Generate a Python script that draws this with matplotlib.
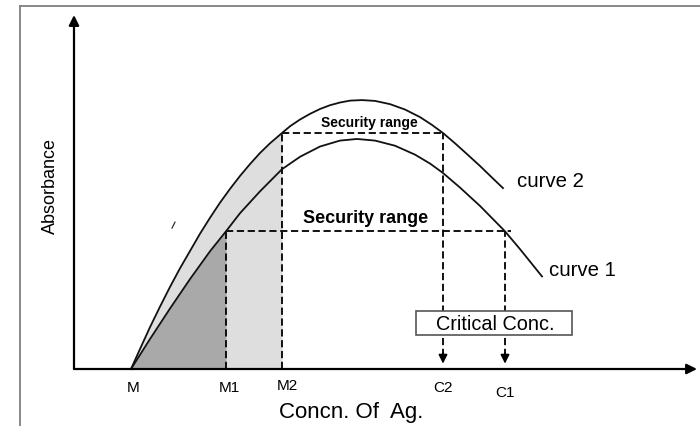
import numpy as np
import matplotlib
matplotlib.use("Agg")
import matplotlib.pyplot as plt
from matplotlib.lines import Line2D
from matplotlib.patches import Rectangle
from matplotlib import font_manager

# Fuente estrecha si existe (el original usa una letra condensada)
nombres = {f.name for f in font_manager.fontManager.ttflist}
if "Liberation Sans Narrow" in nombres:
    fuente, escala = "Liberation Sans Narrow", 1 / 0.82
else:
    fuente, escala = "Liberation Sans", 1.0
plt.rcParams["font.family"] = [fuente, "DejaVu Sans"]

conc_curve2 = [5.7, 6.6, 7.6, 8.6, 9.6, 10.6, 11.6, 12.6, 13.6, 14.6, 15.6, 16.6, 17.6,
               18.6, 19.6, 20.8, 21.6, 22.6, 23.6, 24.6, 25.6, 26.6, 27.6, 28.8, 30.1,
               31.6, 33.1, 34.6, 35.8, 36.9, 38.1, 39.3, 40.6, 41.8, 42.9]
abs_curve2 = [0.0, 7.4, 15.5, 23.1, 30.4, 37.3, 43.7, 50.1, 56.0, 61.6, 66.7, 71.5, 75.9,
              80.0, 83.6, 87.4, 89.9, 92.4, 94.5, 96.3, 97.7, 98.7, 99.4, 99.6, 99.3,
              98.1, 96.1, 93.3, 90.4, 87.4, 83.6, 79.6, 75.2, 70.9, 67.0]

conc_curve1 = [5.7, 7.6, 9.6, 11.6, 13.6, 15.2, 16.6, 18.6, 20.8, 22.6, 24.6, 26.6, 28.3,
               30.1, 32.1, 34.1, 35.6, 36.9, 38.6, 40.6, 43.1, 44.6, 46.8]
abs_curve1 = [0.0, 11.1, 22.4, 33.3, 43.6, 51.0, 57.7, 65.8, 74.0, 78.6, 82.4, 84.6, 85.2,
              84.6, 82.7, 79.4, 76.1, 72.6, 67.2, 60.4, 51.0, 44.4, 34.3]

# puntos en el eje x
etiquetas = ["M", "M1", "M2", "C2", "C1"]
pos_M, pos_M1, pos_M2, pos_C2, pos_C1 = 5.7, 15.2, 20.8, 36.9, 43.1
nivel_seg2 = 87.4   # curva 2 en M2 y C2
nivel_seg1 = 51.0   # curva 1 en M1 y C1
fin_seg1 = 43.7

# marca suelta del original
marca_x = [9.8, 10.1]
marca_y = [52.2, 54.4]

x2 = np.array(conc_curve2)
y2 = np.array(abs_curve2)
x1 = np.array(conc_curve1)
y1 = np.array(abs_curve1)

fig = plt.figure(figsize=(7, 4.26), dpi=100)
ax = fig.add_axes([0, 0, 1, 1])
ax.set_xlim(-7.4, 62.6)
ax.set_ylim(-21.11, 136.67)
ax.axis("off")

# marco gris
fig.add_artist(Line2D([20 / 700, 20 / 700], [0, 1 - 6 / 426], transform=fig.transFigure,
                      color="#808080", lw=1.3))
fig.add_artist(Line2D([20 / 700, 1], [1 - 6 / 426, 1 - 6 / 426], transform=fig.transFigure,
                      color="#808080", lw=1.3))

# areas sombreadas
m2 = x2 <= pos_M2
ax.fill_between(x2[m2], y2[m2], 0, color="#dedede", lw=0, zorder=1)
m1 = x1 <= pos_M1
ax.fill_between(x1[m1], y1[m1], 0, color="#a9a9a9", lw=0, zorder=2)

# curvas
ax.plot(x2, y2, color="#111111", lw=1.3, zorder=4)
ax.plot(x1, y1, color="#111111", lw=1.3, zorder=4)

# lineas de rango de seguridad
dash = dict(color="black", lw=1.3, dashes=(4, 2), zorder=3)
ax.plot([pos_M2, pos_C2], [nivel_seg2, nivel_seg2], **dash)
ax.plot([pos_M2, pos_M2], [0, nivel_seg2], **dash)
ax.plot([pos_M1, fin_seg1], [nivel_seg1, nivel_seg1], **dash)
ax.plot([pos_M1, pos_M1], [0, nivel_seg1], **dash)
ax.plot([pos_C2, pos_C2], [5, nivel_seg2], **dash)
ax.plot([pos_C1, pos_C1], [5, nivel_seg1], **dash)
for c in [pos_C2, pos_C1]:
    ax.annotate("", xy=(c, 2.0), xytext=(c, 6.0),
                arrowprops=dict(arrowstyle="-|>", color="black", lw=1.2, mutation_scale=13,
                                shrinkA=0, shrinkB=0), zorder=5)

# ejes con flechas
ax.annotate("", xy=(62.3, 0), xytext=(0, 0),
            arrowprops=dict(arrowstyle="-|>", color="black", lw=1.6, mutation_scale=15,
                            shrinkA=0, shrinkB=0), zorder=5)
ax.annotate("", xy=(0, 131.1), xytext=(0, 0),
            arrowprops=dict(arrowstyle="-|>", color="black", lw=1.6, mutation_scale=15,
                            shrinkA=0, shrinkB=0), zorder=5)

ax.plot(marca_x, marca_y, color="#333333", lw=0.9)

# caja de concentracion critica
ax.add_patch(Rectangle((34.2, 12.6), 15.6, 8.9, facecolor="white", edgecolor="#555555",
                       lw=1.2, zorder=6))
ax.text(42.1, 14.4, "Critical Conc.", ha="center", va="baseline", fontsize=14.3 * escala,
        zorder=7)

# etiquetas del eje x
lab_x = [5.9, 15.5, 21.3, 36.9, 43.1]
lab_y = [-7.0, -7.0, -6.3, -7.0, -8.9]
for t, lx, ly in zip(etiquetas, lab_x, lab_y):
    ax.text(lx, ly, t, ha="center", va="center", fontsize=11 * escala)

ax.text(27.7, -18.1, "Concn. Of  Ag.", ha="center", va="baseline", fontsize=16 * escala)
ax.text(-2.4, 67.8, "Absorbance", rotation=90, ha="center", va="center",
        fontsize=13 * escala)

ax.text(29.5, 89.6, "Security range", ha="center", va="baseline", fontsize=10 * escala,
        fontweight="bold")
ax.text(29.2, 54.1, "Security range", ha="center", va="baseline", fontsize=13 * escala,
        fontweight="bold")
ax.text(44.3, 67.4, "curve 2", ha="left", va="baseline", fontsize=14.7 * escala)
ax.text(47.5, 34.4, "curve 1", ha="left", va="baseline", fontsize=14.7 * escala)

plt.savefig("out.png", dpi=100)
